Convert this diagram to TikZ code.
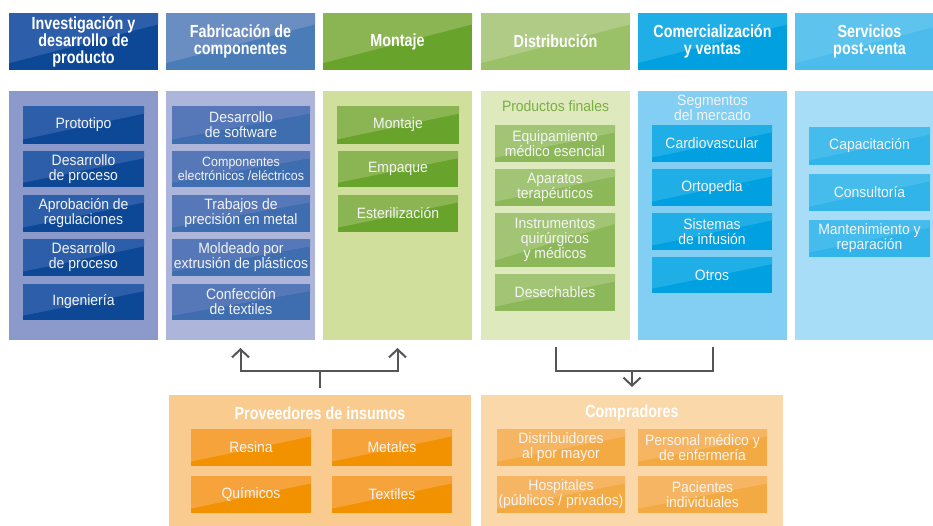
\documentclass[tikz,border=0pt]{standalone}
\usepackage{fontspec}
\setmainfont{Liberation Sans}[FakeStretch=0.93]
\newfontfamily\hdrfont{Liberation Sans}[FakeStretch=0.82]
\usetikzlibrary{arrows.meta,calc}
\definecolor{hA}{HTML}{0D4896}\definecolor{hAl}{HTML}{2D5EA9}\definecolor{pA}{HTML}{8B9ACB}
\definecolor{hB}{HTML}{4A7CB8}\definecolor{hBl}{HTML}{6A8DC2}\definecolor{pB}{HTML}{ADB5DA}
\definecolor{bB}{HTML}{3E6DB0}\definecolor{bBl}{HTML}{5678B8}
\definecolor{hC}{HTML}{68A42B}\definecolor{hCl}{HTML}{8BB553}\definecolor{pC}{HTML}{D0DF9C}
\definecolor{hD}{HTML}{9BC168}\definecolor{hDl}{HTML}{AFCB86}\definecolor{pD}{HTML}{DEE9BD}
\definecolor{bD}{HTML}{8CB85A}\definecolor{bDl}{HTML}{A1C574}\definecolor{tD}{HTML}{7BAF42}
\definecolor{hE}{HTML}{00A0E1}\definecolor{hEl}{HTML}{1FAEE6}\definecolor{pE}{HTML}{82CFF3}
\definecolor{hF}{HTML}{4BBCEC}\definecolor{hFl}{HTML}{5EC4EE}\definecolor{pF}{HTML}{A8DDF7}
\definecolor{bF}{HTML}{30B4E9}\definecolor{bFl}{HTML}{45BCEB}
\definecolor{pG}{HTML}{FACB8E}\definecolor{bG}{HTML}{F39200}\definecolor{bGl}{HTML}{F5A33A}
\definecolor{pH}{HTML}{FAD8A9}\definecolor{bH}{HTML}{F4AA42}\definecolor{bHl}{HTML}{F5B562}
\definecolor{txt}{HTML}{F4F4F4}\definecolor{arr}{HTML}{555555}
\newcommand\cellbox[7]{%
  \node[#6, minimum width={(#4-#2)*1pt}, minimum height={(#5-#3)*1pt}]
    (#1) at ({(#2+#4)/2},{(#3+#5)/2}) {#7};}
\tikzset{
  tile/.style={inner sep=0pt, outer sep=0pt, align=center, text=txt,
    font=\fontsize{15}{15}\selectfont},
  shaded/.style 2 args={fill=#1, path picture={
    \fill[#2] (path picture bounding box.north west) -- (path picture bounding box.north east)
      -- ($(path picture bounding box.north east)!0.2!(path picture bounding box.south east)$)
      -- ($(path picture bounding box.north west)!0.88!(path picture bounding box.south west)$) -- cycle;}},
  hdr/.style={tile, text=white, font=\hdrfont\bfseries\fontsize{17.5}{17}\selectfont},
  panel/.style={inner sep=0pt, outer sep=0pt},
  conn/.style={draw=arr, line width=2pt, line join=miter},
  tip/.tip={Straight Barb[length=8pt,width=17pt]}
}
\begin{document}
\begin{tikzpicture}[x=1pt,y=-1pt]
\useasboundingbox[fill=white] (0,0) rectangle (933,525);
% headers
\cellbox{h1}{9}{13}{158}{70}{hdr,shaded={hA}{hAl}}{Investigación y\\desarrollo de\\producto}
\cellbox{h2}{166}{13}{315}{70}{hdr,shaded={hB}{hBl}}{Fabricación de\\componentes}
\cellbox{h3}{323}{13}{472}{70}{hdr,shaded={hC}{hCl}}{Montaje}
\cellbox{h4}{481}{13}{630}{70}{hdr,shaded={hD}{hDl}}{Distribución}
\cellbox{h5}{638}{13}{787}{70}{hdr,shaded={hE}{hEl}}{Comercialización\\y ventas}
\cellbox{h6}{795}{13}{944}{70}{hdr,shaded={hF}{hFl}}{Servicios\\post-venta}
% panels
\cellbox{p1}{9}{91}{158}{340}{panel,fill=pA}{}
\cellbox{p2}{166}{91}{315}{340}{panel,fill=pB}{}
\cellbox{p3}{323}{91}{472}{340}{panel,fill=pC}{}
\cellbox{p4}{481}{91}{630}{340}{panel,fill=pD}{}
\cellbox{p5}{638}{91}{787}{340}{panel,fill=pE}{}
\cellbox{p6}{795}{91}{944}{340}{panel,fill=pF}{}
% column 1
\cellbox{a1}{23}{106}{144}{144}{tile,shaded={hA}{hAl}}{Prototipo}
\cellbox{a2}{23}{151}{144}{187}{tile,shaded={hA}{hAl}}{Desarrollo\\de proceso}
\cellbox{a3}{23}{195}{144}{232}{tile,shaded={hA}{hAl}}{Aprobación de\\regulaciones}
\cellbox{a4}{23}{239}{144}{276}{tile,shaded={hA}{hAl}}{Desarrollo\\de proceso}
\cellbox{a5}{23}{284}{144}{320}{tile,shaded={hA}{hAl}}{Ingeniería}
% column 2
\cellbox{b1}{172}{106}{310}{144}{tile,shaded={bB}{bBl}}{Desarrollo\\de software}
\cellbox{b2}{172}{151}{310}{187}{tile,shaded={bB}{bBl},font=\fontsize{13.4}{14.5}\selectfont}{Componentes\\electrónicos /eléctricos}
\cellbox{b3}{172}{195}{310}{232}{tile,shaded={bB}{bBl}}{Trabajos de\\precisión en metal}
\cellbox{b4}{172}{239}{310}{276}{tile,shaded={bB}{bBl}}{Moldeado por\\extrusión de plásticos}
\cellbox{b5}{172}{284}{310}{320}{tile,shaded={bB}{bBl}}{Confección\\de textiles}
% column 3
\cellbox{c1}{337}{106}{459}{144}{tile,shaded={hC}{hCl}}{Montaje}
\cellbox{c2}{338}{151}{458}{187}{tile,shaded={hC}{hCl}}{Empaque}
\cellbox{c3}{338}{195}{458}{232}{tile,shaded={hC}{hCl}}{Esterilización}
% column 4
\node[panel, text=tD, font=\fontsize{15}{15}\selectfont] (t4) at (555.5,106) {Productos finales};
\cellbox{d1}{495}{125}{615}{162}{tile,shaded={bD}{bDl}}{Equipamiento\\médico esencial}
\cellbox{d2}{495}{169}{615}{206}{tile,shaded={bD}{bDl}}{Aparatos\\terapéuticos}
\cellbox{d3}{495}{213}{615}{267}{tile,shaded={bD}{bDl}}{Instrumentos\\quirúrgicos\\y médicos}
\cellbox{d4}{495}{274}{615}{311}{tile,shaded={bD}{bDl}}{Desechables}
% column 5
\node[panel, align=center, text=txt, font=\fontsize{15}{15}\selectfont] (t5) at (712.5,108) {Segmentos\\del mercado};
\cellbox{e1}{652}{125}{772}{162}{tile,shaded={hE}{hEl}}{Cardiovascular}
\cellbox{e2}{652}{169}{772}{206}{tile,shaded={hE}{hEl}}{Ortopedia}
\cellbox{e3}{652}{213}{772}{250}{tile,shaded={hE}{hEl}}{Sistemas\\de infusión}
\cellbox{e4}{652}{257}{772}{293}{tile,shaded={hE}{hEl}}{Otros}
% column 6
\cellbox{f1}{809}{127}{930}{165}{tile,shaded={bF}{bFl}}{Capacitación}
\cellbox{f2}{809}{174}{930}{211}{tile,shaded={bF}{bFl}}{Consultoría}
\cellbox{f3}{809}{220}{930}{257}{tile,shaded={bF}{bFl}}{Mantenimiento y\\reparación}
% bottom panels
\cellbox{prov}{169}{395}{471}{530}{panel,fill=pG}{}
\cellbox{comp}{481}{395}{783}{530}{panel,fill=pH}{}
\node[hdr] (provt) at (320,413) {Proveedores de insumos};
\node[hdr] (compt) at (632,413) {Compradores};
\cellbox{g1}{191}{429}{311}{466}{tile,shaded={bG}{bGl}}{Resina}
\cellbox{g2}{332}{429}{452}{466}{tile,shaded={bG}{bGl}}{Metales}
\cellbox{g3}{191}{476}{311}{513}{tile,shaded={bG}{bGl}}{Químicos}
\cellbox{g4}{332}{476}{452}{513}{tile,shaded={bG}{bGl}}{Textiles}
\cellbox{k1}{497}{429}{625}{466}{tile,shaded={bH}{bHl}}{Distribuidores\\al por mayor}
\cellbox{k2}{638}{429}{767}{466}{tile,shaded={bH}{bHl}}{Personal médico y\\de enfermería}
\cellbox{k3}{497}{476}{625}{513}{tile,shaded={bH}{bHl}}{Hospitales\\(públicos / privados)}
\cellbox{k4}{638}{476}{767}{513}{tile,shaded={bH}{bHl}}{Pacientes\\individuales}
% connectors
\coordinate (jy) at (0,371);
\draw[conn] ($(prov.north)+(0,-7)$) -- (prov.north |- jy);
\draw[conn,tip-tip] ($(p2.south)+(0,8)$) -- (p2.south |- jy) -- (p3.south |- jy) -- ($(p3.south)+(0,8)$);
\draw[conn] ($(p4.south)+(0,7)$) -- (p4.south |- jy) -- (p5.south |- jy) -- ($(p5.south)+(0,7)$);
\draw[conn,-tip] (comp.north |- jy) -- ($(comp.north)+(0,-8)$);
\end{tikzpicture}
\end{document}
